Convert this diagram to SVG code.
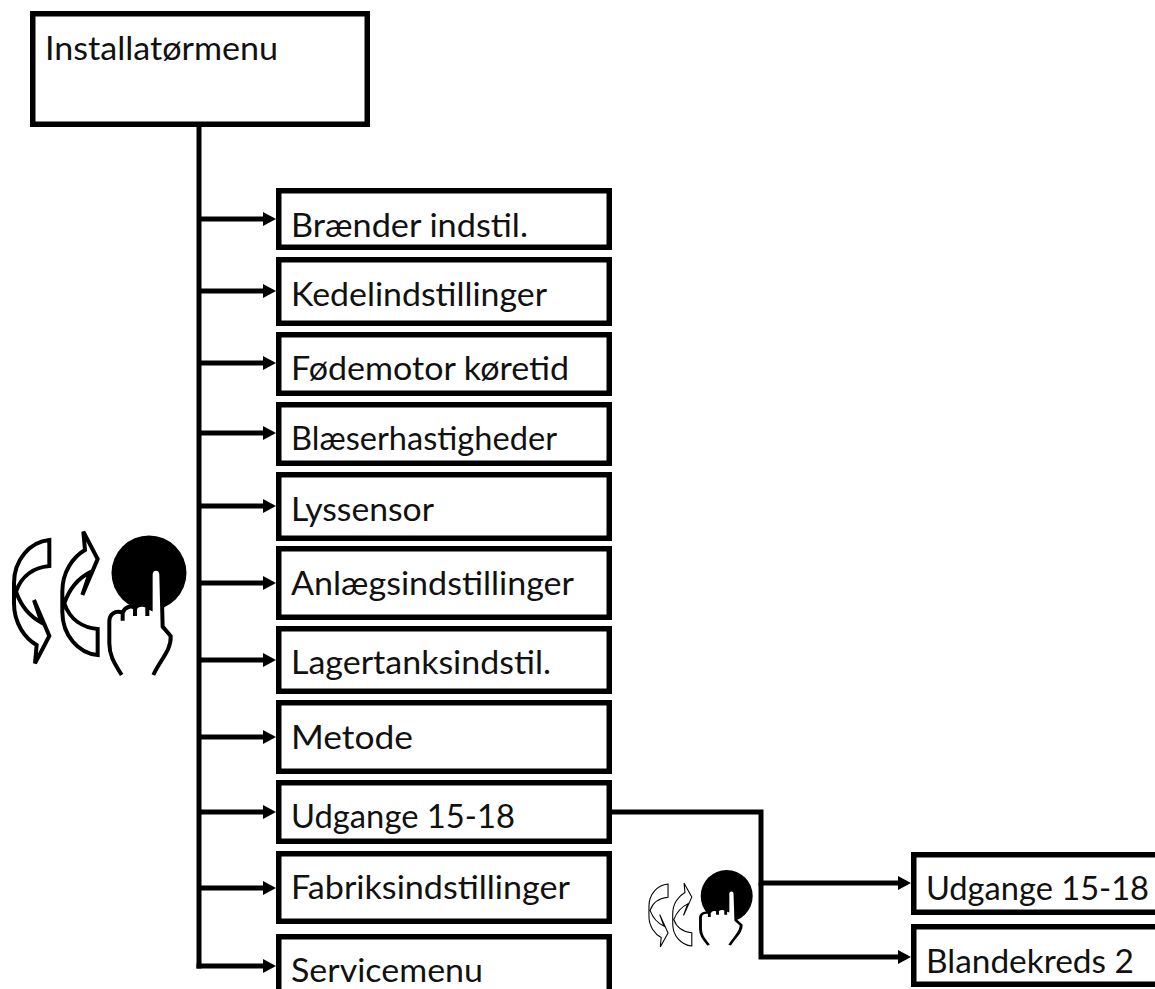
<svg xmlns="http://www.w3.org/2000/svg" xmlns:xlink="http://www.w3.org/1999/xlink" width="1155" height="989" viewBox="0 0 1155 989">
<style>
.box{fill:#fff;stroke:#000;stroke-width:5.5}
.t{font-family:"Lato","Open Sans","Liberation Sans",sans-serif;font-size:33px;fill:#111}
.c{fill:none;stroke:#000;stroke-width:5}
.ic{fill:#fff;stroke:#000;stroke-linejoin:miter;stroke-linecap:butt}
</style>
<defs>
<marker id="ah" markerUnits="userSpaceOnUse" markerWidth="13" markerHeight="14" refX="0" refY="7" orient="auto"><path d="M0,0L13,7L0,14Z" fill="#000"/></marker>
<path id="arr" d="M148,90L148,168C105,172 65,195 48,245C62,285 90,320 125,338L102,270L148,378L105,460L110,405C75,385 42,340 42,280L42,220C42,150 90,95 148,90Z"/>
<path id="hand" d="M365,495C340,455 328,435 328,400L328,335C328,312 345,300 368,308C375,290 395,285 405,295C412,283 432,280 442,290L452,295L452,195C452,170 484,170 484,195L488,350L512,378C515,420 480,450 460,495M368,308L368,332M405,295L405,318M442,290L442,318"/>
</defs>
<g id="connectors">
<path class="c" d="M199,127V968.5"/>
<path class="c" d="M199,219H263" marker-end="url(#ah)"/>
<path class="c" d="M199,291H263" marker-end="url(#ah)"/>
<path class="c" d="M199,363H263" marker-end="url(#ah)"/>
<path class="c" d="M199,433H263" marker-end="url(#ah)"/>
<path class="c" d="M199,506H263" marker-end="url(#ah)"/>
<path class="c" d="M199,583H263" marker-end="url(#ah)"/>
<path class="c" d="M199,660H263" marker-end="url(#ah)"/>
<path class="c" d="M199,737H263" marker-end="url(#ah)"/>
<path class="c" d="M199,812H263" marker-end="url(#ah)"/>
<path class="c" d="M199,888H263" marker-end="url(#ah)"/>
<path class="c" d="M196.5,966H263" marker-end="url(#ah)"/>
<path class="c" d="M610,812H761V883H898" marker-end="url(#ah)"/>
<path class="c" d="M761,883V957H898" marker-end="url(#ah)"/>
</g>
<g id="n-root"><rect class="box" x="32.75" y="13.75" width="334.5" height="110.5"/><text class="t" x="45" y="60" textLength="233" lengthAdjust="spacingAndGlyphs">Installatørmenu</text></g>
<g id="n1"><rect class="box" x="278.75" y="190.75" width="330.5" height="56.5"/><text class="t" x="291" y="237" textLength="237" lengthAdjust="spacingAndGlyphs">Brænder indstil.</text></g>
<g id="n2"><rect class="box" x="278.75" y="259.75" width="330.5" height="63.5"/><text class="t" x="291" y="306" textLength="256" lengthAdjust="spacingAndGlyphs">Kedelindstillinger</text></g>
<g id="n3"><rect class="box" x="278.75" y="334.75" width="330.5" height="58.5"/><text class="t" x="291" y="380" textLength="278" lengthAdjust="spacingAndGlyphs">Fødemotor køretid</text></g>
<g id="n4"><rect class="box" x="278.75" y="404.75" width="330.5" height="58.5"/><text class="t" x="291" y="450" textLength="266" lengthAdjust="spacingAndGlyphs">Blæserhastigheder</text></g>
<g id="n5"><rect class="box" x="278.75" y="474.75" width="330.5" height="63.5"/><text class="t" x="291" y="521" textLength="143" lengthAdjust="spacingAndGlyphs">Lyssensor</text></g>
<g id="n6"><rect class="box" x="278.75" y="548.75" width="330.5" height="68.5"/><text class="t" x="291" y="595" textLength="283" lengthAdjust="spacingAndGlyphs">Anlægsindstillinger</text></g>
<g id="n7"><rect class="box" x="278.75" y="628.75" width="330.5" height="62.5"/><text class="t" x="291" y="674" textLength="260" lengthAdjust="spacingAndGlyphs">Lagertanksindstil.</text></g>
<g id="n8"><rect class="box" x="278.75" y="702.75" width="330.5" height="68.5"/><text class="t" x="291" y="749" textLength="122" lengthAdjust="spacingAndGlyphs">Metode</text></g>
<g id="n9"><rect class="box" x="278.75" y="782.75" width="330.5" height="58.5"/><text class="t" x="291" y="828" textLength="224" lengthAdjust="spacingAndGlyphs">Udgange 15-18</text></g>
<g id="n10"><rect class="box" x="278.75" y="853.75" width="330.5" height="67.5"/><text class="t" x="291" y="899" textLength="279" lengthAdjust="spacingAndGlyphs">Fabriksindstillinger</text></g>
<g id="n11"><rect class="box" x="278.75" y="936.75" width="330.5" height="70"/><text class="t" x="291" y="982" textLength="192" lengthAdjust="spacingAndGlyphs">Servicemenu</text></g>
<g id="n12"><rect class="box" x="913.75" y="854.75" width="260" height="57.5"/><text class="t" x="926" y="900" textLength="223" lengthAdjust="spacingAndGlyphs">Udgange 15-18</text></g>
<g id="n13"><rect class="box" x="913.75" y="926.75" width="260" height="57.5"/><text class="t" x="926" y="973" textLength="208" lengthAdjust="spacingAndGlyphs">Blandekreds 2</text></g>
<g id="icon-large">
<g transform="translate(0,510) scale(.3333)" class="ic" stroke-width="12"><use xlink:href="#arr"/><use xlink:href="#arr" transform="translate(145,525) scale(1,-1)"/></g>
<circle cx="149" cy="573" r="37.5" fill="#000"/>
<g transform="translate(0,510) scale(.3333)" class="ic" stroke-width="12"><use xlink:href="#hand"/></g>
</g>
<g id="icon-small">
<g transform="translate(641.4,868.7) scale(.18,.17)" class="ic" stroke="#333" stroke-width="6"><use xlink:href="#arr"/><use xlink:href="#arr" transform="translate(132,545) scale(1,-1)"/></g>
<circle cx="726.7" cy="896" r="26" fill="#000"/>
<g transform="translate(628,860) scale(.221,.172)" class="ic" stroke-width="13"><use xlink:href="#hand"/></g>
</g>
</svg>
